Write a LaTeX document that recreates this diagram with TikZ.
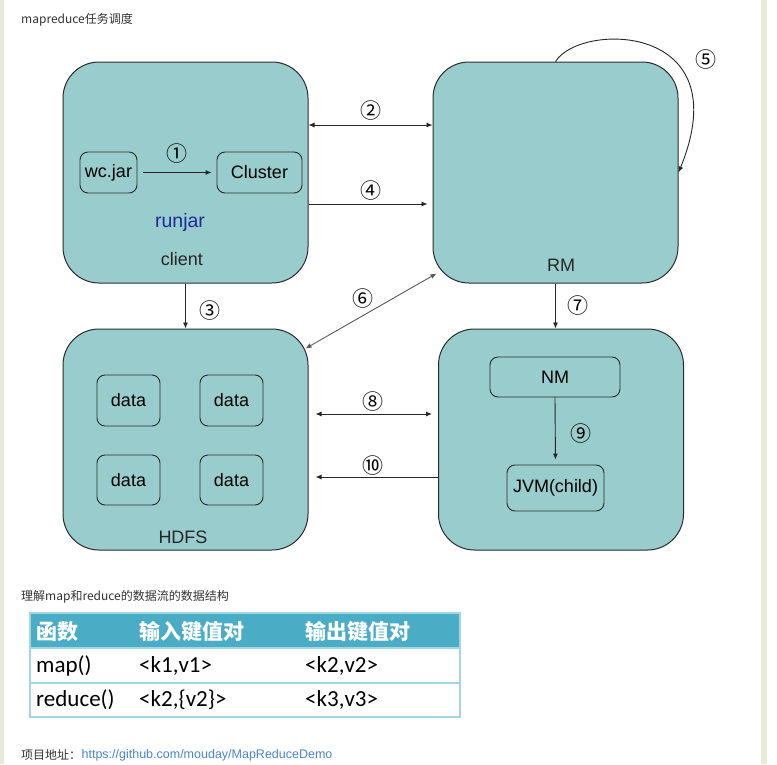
\documentclass[tikz,border=0pt]{standalone}
\usepackage{fontspec}
\setmainfont{Liberation Sans}
\newfontfamily\cjk{Noto Sans CJK SC}
\newfontfamily\tabfont{Carlito}
\usepackage{xcolor}
\definecolor{cBox}{HTML}{99CCCC}
\definecolor{cEdge}{HTML}{2B2B2B}
\definecolor{cRun}{HTML}{1C2A9C}
\definecolor{cHead}{HTML}{4BACC6}
\definecolor{cGrid}{HTML}{A4D5E4}
\definecolor{cStrip}{HTML}{E8EBD8}
\definecolor{cLink}{HTML}{4A86C8}
\definecolor{cText}{HTML}{333333}
\usepackage{tikz}
\usetikzlibrary{positioning, arrows.meta}

\begin{document}
\begin{tikzpicture}[x=1pt, y=-1pt,
    big/.style   = {draw=cEdge, fill=cBox, rounded corners=36pt, line width=1pt,
                    minimum width=245pt, minimum height=221pt, inner sep=0pt},
    small/.style = {draw=cEdge, fill=cBox, rounded corners=8pt, line width=0.9pt,
                    inner sep=0pt, font=\fontsize{18}{20}\selectfont},
    lab/.style   = {font=\fontsize{18}{20}\selectfont, text=black!85, inner sep=0pt},
    num/.style   = {font=\cjk\fontsize{21}{22}\selectfont, text=black, inner sep=1pt},
    arr/.style   = {-{Latex[length=6pt,width=5pt]}, line width=0.9pt, color=black!85},
    darr/.style  = {{Latex[length=6pt,width=5pt]}-{Latex[length=6pt,width=5pt]},
                    line width=0.9pt, color=black!85},
    note/.style  = {font=\cjk\fontsize{12}{14}\selectfont, text=cText, inner sep=0pt, anchor=west},
    head/.style  = {font=\cjk\bfseries\fontsize{21}{24}\selectfont, text=white, inner sep=0pt, anchor=west},
    cell/.style  = {font=\tabfont\fontsize{23}{26}\selectfont, inner sep=0pt, anchor=west}
]
% --- Pozadi a okraje stranky ---------------------------------------------
\fill[white]  (0,0) rectangle (777,764);
\fill[cStrip] (0,0) rectangle (4,764);
\fill[cStrip] (761,0) rectangle (767,764);
\useasboundingbox (0,0) rectangle (777,764);

% --- Sloupce a radky: souradnice stredu ----------------------------------
\def\xL{185.5}
\def\xR{555.5}
\def\yTop{172.5}
\def\yBot{439.5}

\node[note] (title) at (21,20) {mapreduce任务调度};

% --- Velke bloky ----------------------------------------------------------
\node[big] (client) at (\xL, \yTop) {};
\node[big] (rm)     at (\xR, \yTop) {};
\node[big] (hdfs)   at (\xL, \yBot) {};
\node[big] (nm)     at (561, \yBot) {};

% --- Uvnitr client --------------------------------------------------------
\node[small, minimum width=57pt, minimum height=41pt] (wc)      at (108.5,172.5) {wc.jar};
\node[small, minimum width=85pt, minimum height=41pt] (cluster) at (259.5,172.5) {Cluster};
\node[lab, text=cRun, font=\fontsize{19.5}{22}\selectfont] (runjar) at (180,222) {runjar};
\node[lab] (clientlbl) at (182,259) {client};

% --- Uvnitr RM / HDFS / NM ------------------------------------------------
\node[lab] (rmlbl) at (561,265) {RM};
\node[small, minimum width=63pt, minimum height=51pt] (d1) at (128.5,400.5) {data};
\node[small, minimum width=63pt, minimum height=51pt] (d2) at (231.5,400.5) {data};
\node[small, minimum width=63pt, minimum height=50pt] (d3) at (128.5,480) {data};
\node[small, minimum width=63pt, minimum height=50pt] (d4) at (231.5,480) {data};
\node[lab] (hdfslbl) at (183,537) {HDFS};
\node[small, minimum width=130pt, minimum height=40pt] (nmin) at (555,377) {NM};
\node[small, minimum width=97pt, minimum height=46pt] (jvm)  at (555.5,488) {JVM(child)};

% --- Hrany ----------------------------------------------------------------
\draw[arr, shorten <=6pt, shorten >=5pt] (wc) -- node[num, above=8pt] (n1) {①} (cluster);
\draw[darr] ([yshift=47.5pt]client.east)
  -- node[num, above=3pt] (n2) {②} ([yshift=47.5pt]rm.west);
\draw[arr] (client.south) -- node[num, right=13pt, yshift=-5pt] (n3) {③} (hdfs.north);
\draw[arr, shorten >=5pt] ([yshift=-31.5pt]client.east)
  -- node[num, above=2.5pt] (n4) {④} ([yshift=-31.5pt]rm.west);
% smycka RM -> RM
\draw[arr] (rm.north) .. controls (580,22) and (740,22) .. (rm.east);
\node[num] (n5) at (706,60) {⑤};
% RM <-> HDFS (sikmo, sedive)
\coordinate (rm6) at ([xshift=4pt, yshift=10pt]rm.south west);
\coordinate (hd6) at ([xshift=-3pt, yshift=-20pt]hdfs.north east);
\draw[darr, color=black!65] (rm6) -- node[num, xshift=-8pt, yshift=12pt] (n6) {⑥} (hd6);
\draw[arr] (rm.south) -- node[num, right=11pt] (n7) {⑦} (rm.south |- nm.north);
\draw[darr, shorten <=7pt, shorten >=6pt] ([yshift=25.5pt]hdfs.east)
  -- node[num, above=1.5pt] (n8) {⑧} ([yshift=25.5pt]nm.west);
\draw[arr, shorten >=5pt] (nmin.south) -- node[num, right=14pt, yshift=-3pt] (n9) {⑨} (jvm.north);
\draw[arr, shorten >=7pt] ([yshift=-37.5pt]nm.west)
  -- node[num, above=0.5pt] (n10) {⑩} ([yshift=-37.5pt]hdfs.east);

% --- Tabulka datovych struktur --------------------------------------------
\node[note] (tabtitle) at (21,597) {理解map和reduce的数据流的数据结构};
\fill[cHead] (30,613) rectangle (460,648);
\draw[cGrid, line width=1.5pt] (30,613) rectangle (460,717);
\draw[cGrid, line width=1.5pt] (30,648) -- (460,648);
\draw[cGrid, line width=1.5pt] (30,683) -- (460,683);
\node[head] (h1) at (36,632) {函数};
\node[head] (h2) at (139,632) {输入键值对};
\node[head] (h3) at (305,632) {输出键值对};
\node[cell] (c11) at (36,666)  {map()};
\node[cell] (c12) at (139,666) {<k1,v1>};
\node[cell] (c13) at (305,666) {<k2,v2>};
\node[cell] (c21) at (36,700)  {reduce()};
\node[cell] (c22) at (139,700) {<k2,\{v2\}>};
\node[cell] (c23) at (305,700) {<k3,v3>};

% --- Odkaz na projekt -----------------------------------------------------
\node[note] (proj) at (21,755) {项目地址：};
\node[note, font=\fontsize{12.5}{14}\selectfont, text=cLink, right=0pt of proj] (url)
  {https://github.com/mouday/MapReduceDemo};
\end{tikzpicture}
\end{document}
